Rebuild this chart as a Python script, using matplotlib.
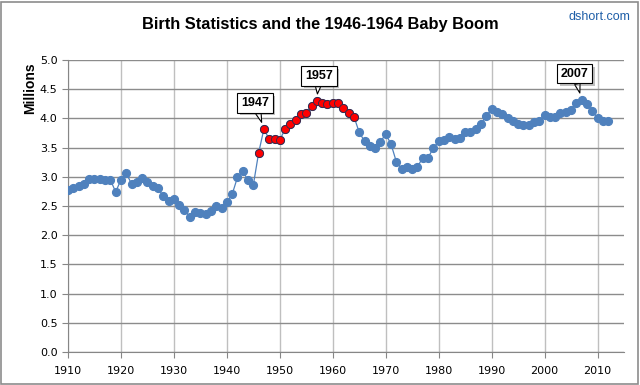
import numpy as np
import matplotlib
matplotlib.use("Agg")
import matplotlib.pyplot as plt
from matplotlib.patches import Rectangle
from matplotlib import patheffects as pe

# US births, millions (1910-2012)
years = list(range(1910, 2013))
births = [2.78, 2.81, 2.84, 2.87, 2.97, 2.97, 2.96, 2.94, 2.95, 2.74,
          2.95, 3.06, 2.88, 2.91, 2.98, 2.91, 2.84, 2.80, 2.67, 2.58,
          2.62, 2.51, 2.44, 2.31, 2.40, 2.38, 2.36, 2.41, 2.50, 2.47,
          2.56, 2.70, 2.99, 3.10, 2.94, 2.86, 3.41, 3.82, 3.64, 3.65,
          3.63, 3.82, 3.91, 3.97, 4.08, 4.10, 4.22, 4.30, 4.26, 4.25,
          4.26, 4.27, 4.17, 4.10, 4.03, 3.76, 3.61, 3.52, 3.50, 3.60,
          3.73, 3.56, 3.26, 3.14, 3.16, 3.14, 3.17, 3.33, 3.33, 3.49,
          3.61, 3.63, 3.68, 3.64, 3.67, 3.76, 3.76, 3.81, 3.91, 4.04,
          4.16, 4.11, 4.07, 4.00, 3.95, 3.90, 3.89, 3.88, 3.94, 3.96,
          4.06, 4.03, 4.02, 4.09, 4.11, 4.14, 4.27, 4.32, 4.25, 4.13,
          4.00, 3.95, 3.95]
boom_start, boom_end = 1946, 1964
callout_years = [1947, 1957, 2007]
callout_offsets = [(-9, 26), (2, 25), (-7, 26)]

yrs = np.array(years)
b = np.array(births)
boom = (yrs >= boom_start) & (yrs <= boom_end)

fig = plt.figure(figsize=(6.4, 3.85), dpi=100)
fig.patches.append(Rectangle((0.002, 0.003), 0.995, 0.993, transform=fig.transFigure,
                             fill=False, edgecolor='#8c8c8c', linewidth=1.2))
ax = fig.add_axes([68/640, 1-352/385, (624-68)/640, (352-60)/385])

blue = '#4f81bd'
ax.plot(yrs, b, color=blue, lw=0.9, marker='o', ms=5.6, mfc=blue, mec=blue, zorder=3)
ax.plot(yrs[boom], b[boom], ls='none', marker='o', ms=5.8, mfc='#ff0000', mec='#3b2a4a',
        mew=0.7, zorder=4)

ax.set_xlim(1910, 2015)
ax.set_ylim(0, 5)
ax.set_xticks(range(1910, 2011, 10))
ax.set_yticks(np.arange(0, 5.01, 0.5))
ax.set_yticklabels(['%.1f' % v for v in np.arange(0, 5.01, 0.5)])
ax.grid(axis='x', color='#bfbfbf', lw=1.0)
ax.grid(axis='y', color='#8c8c8c', lw=1.0)
ax.set_axisbelow(True)
for s in ['top', 'right']:
    ax.spines[s].set_visible(False)
for s in ['left', 'bottom']:
    ax.spines[s].set_color('#868686')
ax.tick_params(axis='both', colors='#868686', labelcolor='black', labelsize=8, length=4)
ax.tick_params(axis='x', pad=6)

fig.text(30/640, 1-88/385, 'Millions', rotation=90, ha='center', va='center',
         fontsize=10, fontweight='bold', family='Liberation Sans')
fig.text(320/640, 1-25/385, 'Birth Statistics and the 1946-1964 Baby Boom', ha='center',
         va='center', fontsize=11.8, fontweight='bold', family='Liberation Sans')
fig.text(630/640, 1-17/385, 'dshort.com', ha='right', va='center', fontsize=9,
         color='#1f5fa8', family='Liberation Sans')

for yr, off in zip(callout_years, callout_offsets):
    val = b[yrs == yr][0]
    ann = ax.annotate(str(yr), xy=(yr, val), xytext=off, textcoords='offset pixels',
                      ha='center', va='center', fontsize=9, fontweight='bold', zorder=6,
                      family='Liberation Sans',
                      bbox=dict(boxstyle='square,pad=0.3', fc='white', ec='black', lw=0.8),
                      arrowprops=dict(arrowstyle='wedge,tail_width=0.45', fc='white',
                                      ec='black', lw=0.8, shrinkA=0, shrinkB=5))
    ann.get_bbox_patch().set_path_effects([pe.SimplePatchShadow(offset=(2, -2), alpha=0.35),
                                           pe.Normal()])

fig.savefig('out.png', dpi=100)
